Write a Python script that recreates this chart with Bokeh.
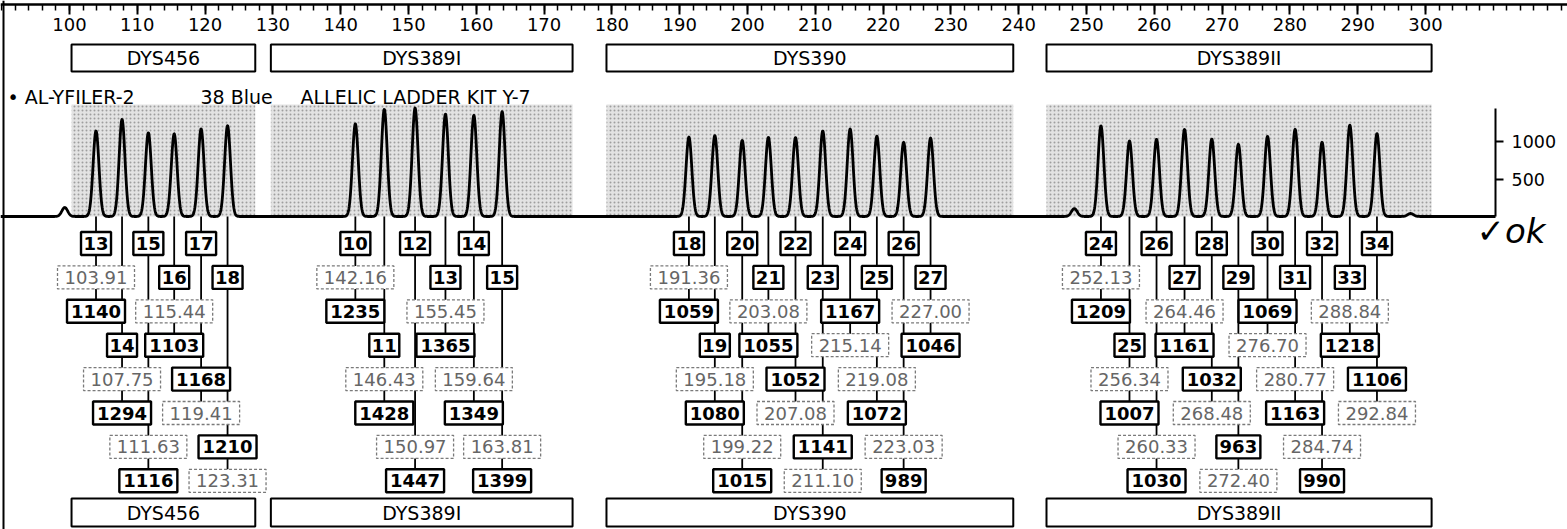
import numpy as np
from bokeh.plotting import figure
from bokeh.models import Range1d, LinearAxis, FixedTicker, Span, Label
from bokeh.embed import file_html
from bokeh.resources import INLINE
from bokeh.core.properties import value

# ------------------------------------------------------------------ data
LOCI = ["DYS456", "DYS389I", "DYS390", "DYS389II"]
LOCUS_START = [100.3, 129.7, 179.2, 244.1]   # bp
LOCUS_END = [127.4, 174.2, 239.2, 300.9]     # bp

DYS456_ALLELES = ["13", "14", "15", "16", "17", "18"]
DYS456_SIZES = [103.91, 107.75, 111.63, 115.44, 119.41, 123.31]
DYS456_HEIGHTS = [1140, 1294, 1116, 1103, 1168, 1210]

DYS389I_ALLELES = ["10", "11", "12", "13", "14", "15"]
DYS389I_SIZES = [142.16, 146.43, 150.97, 155.45, 159.64, 163.81]
DYS389I_HEIGHTS = [1235, 1428, 1447, 1365, 1349, 1399]

DYS390_ALLELES = ["18", "19", "20", "21", "22", "23", "24", "25", "26", "27"]
DYS390_SIZES = [191.36, 195.18, 199.22, 203.08, 207.08, 211.10, 215.14, 219.08, 223.03, 227.00]
DYS390_HEIGHTS = [1059, 1080, 1015, 1055, 1052, 1141, 1167, 1072, 989, 1046]

DYS389II_ALLELES = ["24", "25", "26", "27", "28", "29", "30", "31", "32", "33", "34"]
DYS389II_SIZES = [252.13, 256.34, 260.33, 264.46, 268.48, 272.40, 276.70, 280.77, 284.74, 288.84, 292.84]
DYS389II_HEIGHTS = [1209, 1007, 1030, 1161, 1032, 963, 1069, 1163, 990, 1218, 1106]

MINOR_SIZES = [99.3, 248.2, 297.8]
MINOR_HEIGHTS = [120, 105, 40]

RULER_MAJOR = list(range(100, 301, 10))
RULER_MINOR = list(range(90, 321, 2))
RFU_TICKS = [500, 1000]

SAMPLE = "\u2022 AL-YFILER-2"
DYE = "38 Blue"
KIT = "ALLELIC LADDER KIT Y-7"
NOTE = "\u2713ok"

# ------------------------------------------------------------------ geometry / style
CANVAS_W, CANVAS_H = 1567, 529
X_LO, X_HI = 0, 1567          # reference pixel span shown
Y_LO, Y_HI = 0, 529
PX_PER_BP = 6.78              # reference pixels per bp
X_100 = 69.0                  # reference x of 100 bp


def bp_at(x_ref):
    return 100.0 + (x_ref - X_100) / PX_PER_BP


AXIS_X_REF = 1495
RULER_Y = 4.0
BASE = 216.0
RFU_PX = 0.075
BIN_TOP = 104.0
ROW0_Y, ROW_STEP, BOX_H = 243.0, 33.9, 23.0
TOPBOX = (44.0, 71.0)
BOTBOX = (498.0, 526.0)
FONT = "DejaVu Sans"

BOLD_W = {2: 30.0, 3: 44.0, 4: 58.0}
SIZE_W = 77.0
PAD = 7.0

# ------------------------------------------------------------------ label layout
loci_data = [
    (DYS456_ALLELES, DYS456_SIZES, DYS456_HEIGHTS),
    (DYS389I_ALLELES, DYS389I_SIZES, DYS389I_HEIGHTS),
    (DYS390_ALLELES, DYS390_SIZES, DYS390_HEIGHTS),
    (DYS389II_ALLELES, DYS389II_SIZES, DYS389II_HEIGHTS),
]

bold = dict(x=[], y=[], w=[], text=[])
size = dict(x=[], y=[], w=[], text=[])
stems = dict(x=[], y0=[], y1=[])

for alleles, sizes, heights in loci_data:
    occupied = {}
    for a, s, h in zip(alleles, sizes, heights):
        items = [
            (a, "bold", 0, BOLD_W[len(a)] / PX_PER_BP),
            (f"{s:.2f}", "size", 1, SIZE_W / PX_PER_BP),
            (str(h), "bold", 2, BOLD_W[len(str(h))] / PX_PER_BP),
        ]
        pad = PAD / PX_PER_BP
        lowest = 0
        for text, kind, r0, w in items:
            lo, hi = s - w / 2, s + w / 2
            r = r0
            while any(lo < b + pad and a0 < hi + pad for a0, b in occupied.get(r, [])):
                r += 1
            occupied.setdefault(r, []).append((lo, hi))
            tgt = bold if kind == "bold" else size
            tgt["x"].append(s)
            tgt["y"].append(ROW0_Y + ROW_STEP * r)
            tgt["w"].append(w)
            tgt["text"].append(text)
            lowest = max(lowest, r)
        stems["x"].append(s)
        stems["y0"].append(BASE)
        stems["y1"].append(ROW0_Y + ROW_STEP * lowest)

# ------------------------------------------------------------------ figure
p = figure(width=CANVAS_W, height=CANVAS_H,
           x_range=Range1d(bp_at(X_LO), bp_at(X_HI)),
           y_range=Range1d(start=Y_HI, end=Y_LO),
           toolbar_location=None, output_backend="svg",
           x_axis_location=None, y_axis_location=None,
           min_border_left=0, min_border_right=0, min_border_top=0, min_border_bottom=0,
           outline_line_color=None, background_fill_color="white")
p.grid.visible = False
p.extra_y_ranges = {"rfu": Range1d(start=(BASE - Y_HI) / RFU_PX, end=(BASE - Y_LO) / RFU_PX)}

# left border
p.add_layout(Span(location=bp_at(3), dimension="height", line_color="black", line_width=2))

# size ruler (bp) at the top
rax = LinearAxis(ticker=FixedTicker(ticks=RULER_MAJOR, minor_ticks=RULER_MINOR),
                 fixed_location=RULER_Y)
rax.axis_line_width = 2.5
rax.axis_line_color = "black"
rax.major_tick_line_width = 2
rax.major_tick_out = 10
rax.major_tick_in = 0
rax.minor_tick_line_width = 1.5
rax.minor_tick_out = 6
rax.minor_tick_in = 0
rax.major_label_standoff = 3
rax.major_label_text_font = FONT
rax.major_label_text_font_size = "18px"
rax.major_label_text_color = "black"
p.add_layout(rax, "below")

# bins (speckled grey)
p.quad(left=LOCUS_START, right=LOCUS_END, top=[BIN_TOP] * 4, bottom=[BASE] * 4,
       fill_color="#e3e3e3", line_color=None,
       hatch_pattern="dot", hatch_color="#6f6f6f", hatch_scale=4, hatch_alpha=0.6)

# electropherogram trace
all_sizes = np.array(DYS456_SIZES + DYS389I_SIZES + DYS390_SIZES + DYS389II_SIZES + MINOR_SIZES)
all_heights = np.array(DYS456_HEIGHTS + DYS389I_HEIGHTS + DYS390_HEIGHTS + DYS389II_HEIGHTS + MINOR_HEIGHTS)
xs = np.linspace(bp_at(X_LO), bp_at(AXIS_X_REF), 5000)
sig = 0.43
ys = (all_heights[None, :] * np.exp(-0.5 * ((xs[:, None] - all_sizes[None, :]) / sig) ** 2)).sum(axis=1)
p.line(xs, ys, y_range_name="rfu", line_color="black", line_width=2.8, line_join="round")

# RFU axis drawn at a fixed location inside the frame
yax = LinearAxis(y_range_name="rfu", ticker=FixedTicker(ticks=RFU_TICKS), bounds=(0, 1440),
                 fixed_location=bp_at(AXIS_X_REF))
yax.axis_line_width = 2
yax.major_tick_line_width = 2
yax.major_tick_out = 8
yax.major_tick_in = 0
yax.minor_tick_line_color = None
yax.major_label_standoff = 8
yax.major_label_text_font = FONT
yax.major_label_text_font_size = "17.5px"
yax.major_label_text_color = "black"
p.add_layout(yax, "right")

# stems
p.segment(x0=stems["x"], y0=stems["y0"], x1=stems["x"], y1=stems["y1"],
          line_color="black", line_width=1.8)

# size boxes
p.rect(x=size["x"], y=size["y"], width=size["w"], height=BOX_H,
       fill_color="white", line_color="#7a7a7a", line_width=1.3, line_dash="3 2")
p.text(x=size["x"], y=size["y"], text=size["text"], text_font=value(FONT),
       text_font_size=value("18px"), text_color="#666666",
       text_align="center", text_baseline="middle")

# bold boxes (allele / height)
p.rect(x=bold["x"], y=bold["y"], width=bold["w"], height=BOX_H,
       fill_color="white", line_color="black", line_width=2.4)
p.text(x=bold["x"], y=bold["y"], text=bold["text"], text_font=value(FONT),
       text_font_size=value("18px"), text_font_style="bold", text_color="black",
       text_align="center", text_baseline="middle")

# locus boxes top and bottom
mid = [(a + b) / 2 for a, b in zip(LOCUS_START, LOCUS_END)]
for (y_a, y_b) in (TOPBOX, BOTBOX):
    p.quad(left=LOCUS_START, right=LOCUS_END, top=[y_a] * 4, bottom=[y_b] * 4,
           fill_color="white", line_color="black", line_width=2)
    p.text(x=mid, y=[(y_a + y_b) / 2] * 4, text=LOCI, text_font=value(FONT),
           text_font_size=value("19px"), text_color="black",
           text_align="center", text_baseline="middle")

# header texts
for txt, xr in ((SAMPLE, 7), (DYE, 200), (KIT, 300)):
    p.add_layout(Label(x=bp_at(xr), y=96, text=txt, text_font=FONT, text_font_size="19px",
                       text_color="black", text_baseline="middle", text_align="left"))

p.add_layout(Label(x=bp_at(1476), y=230, text=NOTE, text_font=FONT, text_font_size="34px",
                   text_font_style="italic", text_color="black", text_baseline="middle",
                   text_align="left"))

open("out.html", "w").write(file_html(p, INLINE))
